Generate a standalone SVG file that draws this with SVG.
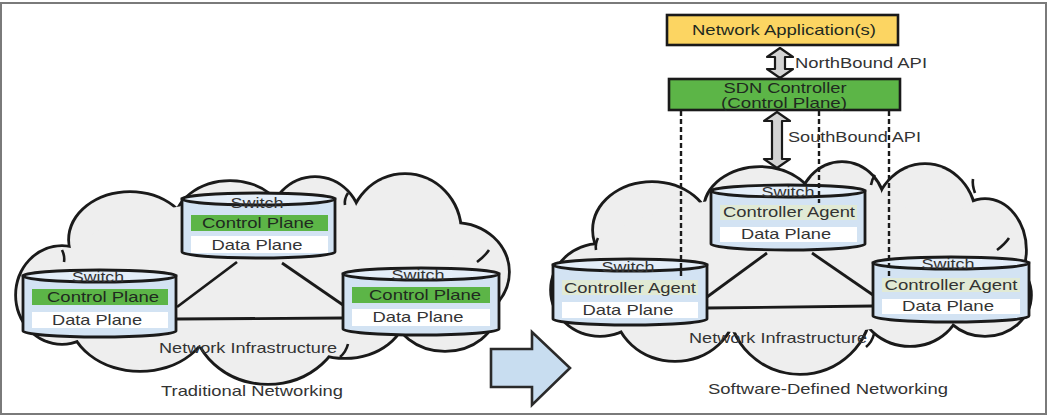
<svg xmlns="http://www.w3.org/2000/svg" width="1051" height="417" viewBox="0 0 1051 417">
<style>
text{font-family:"Liberation Sans",Arial,sans-serif;font-size:15px;fill:#333;}
.m{text-anchor:middle;}
.dk{fill:#1f2a1f;}
.cloudO ellipse{fill:none;stroke:#1a1a1a;stroke-width:5.6;}
.cloudF ellipse{fill:#eeeeee;stroke:none;}
.crease{fill:none;stroke:#1a1a1a;stroke-width:2.6;}
.body{fill:#d3e3f3;stroke:#1a1a1a;stroke-width:2.8;}
.lid{fill:#e4eef9;stroke:#1a1a1a;stroke-width:2.8;}
.cp{fill:#5cb547;}
.ca{fill:#e1ead5;}
.dp{fill:#ffffff;}
.link{stroke:#1a1a1a;stroke-width:2.8;fill:none;}
.dash{stroke:#1a1a1a;stroke-width:2.4;stroke-dasharray:5 3;fill:none;}
.api{fill:#d4d4d4;stroke:#1a1a1a;stroke-width:2.2;stroke-linejoin:round;}
</style>
<rect x="1" y="3" width="1045" height="411" fill="#ffffff" stroke="#7a7a7a" stroke-width="2"/>

<!-- Left cloud -->
<g id="cloud-left">
 <g class="cloudO">
  <ellipse cx="62" cy="295" rx="45" ry="48"/>
  <ellipse cx="130" cy="240" rx="60" ry="47"/>
  <ellipse cx="230" cy="225" rx="55" ry="43"/>
  <ellipse cx="315" cy="225" rx="45" ry="47"/>
  <ellipse cx="405" cy="232" rx="55" ry="57"/>
  <ellipse cx="455" cy="272" rx="53" ry="48"/>
  <ellipse cx="445" cy="310" rx="50" ry="40"/>
  <ellipse cx="345" cy="310" rx="60" ry="47"/>
  <ellipse cx="268" cy="315" rx="75" ry="68"/>
  <ellipse cx="140" cy="315" rx="70" ry="55"/>
 </g>
 <g class="cloudF">
  <ellipse cx="62" cy="295" rx="45" ry="48"/>
  <ellipse cx="130" cy="240" rx="60" ry="47"/>
  <ellipse cx="230" cy="225" rx="55" ry="43"/>
  <ellipse cx="315" cy="225" rx="45" ry="47"/>
  <ellipse cx="405" cy="232" rx="55" ry="57"/>
  <ellipse cx="455" cy="272" rx="53" ry="48"/>
  <ellipse cx="445" cy="310" rx="50" ry="40"/>
  <ellipse cx="345" cy="310" rx="60" ry="47"/>
  <ellipse cx="268" cy="315" rx="75" ry="68"/>
  <ellipse cx="140" cy="315" rx="70" ry="55"/>
  <ellipse cx="260" cy="275" rx="200" ry="75"/>
 </g>
 <path class="crease" d="M62,250 q3,6 2,12"/>
 <path class="crease" d="M348,193 q-4,6 -3,12"/>
 <path class="crease" d="M477,262 q8,-6 12,-12"/>
 <path class="crease" d="M340,357 q6,-5 8,-13"/>
</g>

<!-- Right cloud -->
<g id="cloud-right">
 <g class="cloudO">
  <ellipse cx="600" cy="290" rx="48" ry="45"/>
  <ellipse cx="652" cy="230" rx="58" ry="47"/>
  <ellipse cx="760" cy="210" rx="55" ry="42"/>
  <ellipse cx="842" cy="208" rx="42" ry="45"/>
  <ellipse cx="925" cy="220" rx="50" ry="55"/>
  <ellipse cx="985" cy="250" rx="40" ry="50"/>
  <ellipse cx="985" cy="295" rx="45" ry="40"/>
  <ellipse cx="910" cy="300" rx="50" ry="45"/>
  <ellipse cx="800" cy="305" rx="70" ry="68"/>
  <ellipse cx="675" cy="305" rx="60" ry="55"/>
 </g>
 <g class="cloudF">
  <ellipse cx="600" cy="290" rx="48" ry="45"/>
  <ellipse cx="652" cy="230" rx="58" ry="47"/>
  <ellipse cx="760" cy="210" rx="55" ry="42"/>
  <ellipse cx="842" cy="208" rx="42" ry="45"/>
  <ellipse cx="925" cy="220" rx="50" ry="55"/>
  <ellipse cx="985" cy="250" rx="40" ry="50"/>
  <ellipse cx="985" cy="295" rx="45" ry="40"/>
  <ellipse cx="910" cy="300" rx="50" ry="45"/>
  <ellipse cx="800" cy="305" rx="70" ry="68"/>
  <ellipse cx="675" cy="305" rx="60" ry="55"/>
  <ellipse cx="790" cy="265" rx="200" ry="70"/>
 </g>
 <path class="crease" d="M598,238 q-3,6 -2,12"/>
 <path class="crease" d="M875,175 q-3,4 -4,10"/>
 <path class="crease" d="M975,193 q-3,-8 -2,-14"/>
 <path class="crease" d="M997,250 q8,-6 12,-12"/>
 <path class="crease" d="M866,347 q6,-5 8,-13"/>
</g>

<!-- Connectors -->
<g id="connectors">
 <line class="link" x1="237" y1="262" x2="177" y2="307"/>
 <line class="link" x1="282" y1="263" x2="343" y2="305"/>
 <line class="link" x1="177" y1="319" x2="343" y2="318"/>
 <line class="link" x1="767" y1="253" x2="707" y2="297"/>
 <line class="link" x1="812" y1="253" x2="873" y2="295"/>
 <line class="link" x1="707" y1="308" x2="873" y2="306"/>
 <path class="api" d="M780,48 L793,57 L785,57 L785,69 L793,69 L780,78 L767,69 L775,69 L775,57 L767,57 Z"/>
 <path class="api" d="M777,112 L790,121 L782,121 L782,159 L790,159 L777,168 L764,159 L772,159 L772,121 L764,121 Z"/>
 <path d="M491,349 L532,349 L532,332 L570,368 L532,405 L532,387 L491,387 Z" fill="#c8ddf0" stroke="#2a2a2a" stroke-width="2.6" stroke-linejoin="miter"/>
</g>

<!-- Left switches -->
<g id="sw-left-top">
 <path class="body" d="M182,199 V252 A76.5,6 0 0 0 335,252 V199 Z"/>
 <ellipse class="lid" cx="258.5" cy="199" rx="76.5" ry="6"/>
 <rect class="cp" x="191" y="215" width="137" height="16"/>
 <rect class="dp" x="191" y="236" width="137" height="17"/>
 <text class="m" x="257" y="208" textLength="53" lengthAdjust="spacingAndGlyphs">Switch</text>
 <text class="m dk" x="258" y="228" textLength="112" lengthAdjust="spacingAndGlyphs">Control Plane</text>
 <text class="m" x="257" y="250" textLength="91" lengthAdjust="spacingAndGlyphs">Data Plane</text>
</g>
<g id="sw-left-left">
 <path class="body" d="M23,276 V331 A76.5,6 0 0 0 176,331 V276 Z"/>
 <ellipse class="lid" cx="99.5" cy="276" rx="76.5" ry="6"/>
 <rect class="cp" x="32" y="289" width="136" height="16"/>
 <rect class="dp" x="32" y="312" width="136" height="16"/>
 <text class="m" x="98" y="282" textLength="52" lengthAdjust="spacingAndGlyphs">Switch</text>
 <text class="m dk" x="103" y="302" textLength="112" lengthAdjust="spacingAndGlyphs">Control Plane</text>
 <text class="m" x="97" y="325" textLength="90" lengthAdjust="spacingAndGlyphs">Data Plane</text>
</g>
<g id="sw-left-right">
 <path class="body" d="M343,274 V329 A78,6 0 0 0 499,329 V274 Z"/>
 <ellipse class="lid" cx="421" cy="274" rx="78" ry="6"/>
 <rect class="cp" x="352" y="287" width="138" height="16"/>
 <rect class="dp" x="352" y="309" width="138" height="17"/>
 <text class="m" x="418" y="280" textLength="53" lengthAdjust="spacingAndGlyphs">Switch</text>
 <text class="m dk" x="425" y="300" textLength="112" lengthAdjust="spacingAndGlyphs">Control Plane</text>
 <text class="m" x="418" y="322" textLength="91" lengthAdjust="spacingAndGlyphs">Data Plane</text>
</g>

<!-- Right switches -->
<g id="sw-right-top">
 <path class="body" d="M711,191 V244 A77,6 0 0 0 865,244 V191 Z"/>
 <ellipse class="lid" cx="788" cy="191" rx="77" ry="6"/>
 <rect class="ca" x="720" y="205" width="137" height="15"/>
 <rect class="dp" x="720" y="227" width="137" height="15"/>
 <text class="m" x="788" y="197" textLength="53" lengthAdjust="spacingAndGlyphs">Switch</text>
 <text class="m" x="789" y="217" textLength="132" lengthAdjust="spacingAndGlyphs">Controller Agent</text>
 <text class="m" x="786" y="239" textLength="90" lengthAdjust="spacingAndGlyphs">Data Plane</text>
</g>
<g id="sw-right-left">
 <path class="body" d="M553,265 V319 A77,6 0 0 0 707,319 V265 Z"/>
 <ellipse class="lid" cx="630" cy="265" rx="77" ry="6"/>
 <rect class="ca" x="562" y="280" width="136" height="15"/>
 <rect class="dp" x="562" y="302" width="136" height="16"/>
 <text class="m" x="628" y="272" textLength="53" lengthAdjust="spacingAndGlyphs">Switch</text>
 <text class="m" x="630" y="293" textLength="132" lengthAdjust="spacingAndGlyphs">Controller Agent</text>
 <text class="m" x="628" y="315" textLength="91" lengthAdjust="spacingAndGlyphs">Data Plane</text>
</g>
<g id="sw-right-right">
 <path class="body" d="M873,263 V316 A78,6 0 0 0 1029,316 V263 Z"/>
 <ellipse class="lid" cx="951" cy="263" rx="78" ry="6"/>
 <rect class="ca" x="882" y="278" width="138" height="14"/>
 <rect class="dp" x="882" y="299" width="138" height="15"/>
 <text class="m" x="948" y="269" textLength="53" lengthAdjust="spacingAndGlyphs">Switch</text>
 <text class="m" x="951" y="290" textLength="133" lengthAdjust="spacingAndGlyphs">Controller Agent</text>
 <text class="m" x="948" y="311" textLength="92" lengthAdjust="spacingAndGlyphs">Data Plane</text>
</g>

<!-- Controller stack -->
<g id="net-apps">
 <rect x="667" y="15" width="231" height="30" fill="#fcd562" stroke="#1a1a1a" stroke-width="2.6"/>
 <text class="m dk" x="784" y="35" textLength="184" lengthAdjust="spacingAndGlyphs">Network Application(s)</text>
</g>
<g id="sdn-controller">
 <rect x="669" y="79" width="231" height="31" fill="#5cb547" stroke="#1a1a1a" stroke-width="2.6"/>
 <text class="m dk" x="785" y="93" textLength="123" lengthAdjust="spacingAndGlyphs">SDN Controller</text>
 <text class="m dk" x="784" y="108" textLength="126" lengthAdjust="spacingAndGlyphs">(Control Plane)</text>
</g>

<g id="dashed-links">
 <line class="dash" x1="681" y1="111" x2="681" y2="278"/>
 <line class="dash" x1="819" y1="111" x2="819" y2="203"/>
 <line class="dash" x1="889" y1="111" x2="889" y2="277"/>
</g>

<g id="labels">
 <text x="795" y="68" textLength="132" lengthAdjust="spacingAndGlyphs">NorthBound API</text>
 <text x="788" y="142" textLength="133" lengthAdjust="spacingAndGlyphs">SouthBound API</text>
 <text class="m" x="248" y="353" textLength="178" lengthAdjust="spacingAndGlyphs">Network Infrastructure</text>
 <text class="m" x="252" y="396" textLength="182" lengthAdjust="spacingAndGlyphs">Traditional Networking</text>
 <text class="m" x="778" y="343" textLength="178" lengthAdjust="spacingAndGlyphs">Network Infrastructure</text>
 <text class="m" x="828" y="394" textLength="240" lengthAdjust="spacingAndGlyphs">Software-Defined Networking</text>
</g>
</svg>
